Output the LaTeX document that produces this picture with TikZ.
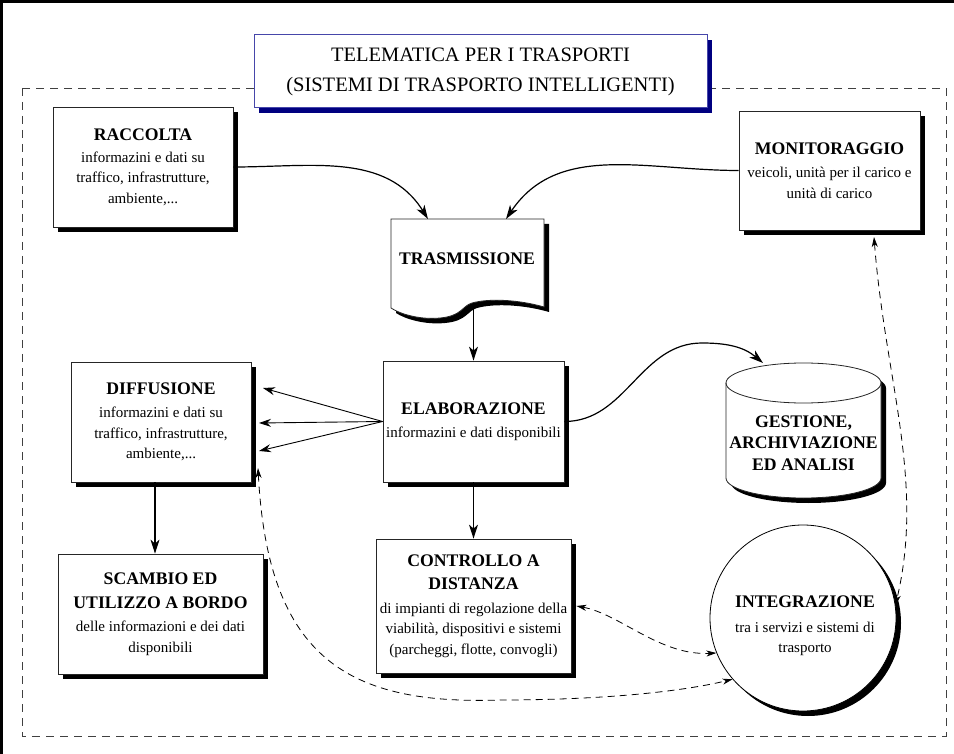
\documentclass[tikz,border=0pt]{standalone}
\usepackage{fontspec}
\setmainfont{Liberation Serif}
\usetikzlibrary{arrows.meta,shadows,calc}
\definecolor{navyc}{RGB}{0,0,128}
\definecolor{navyb}{RGB}{70,70,170}
\newcommand\hd[1]{{\fontsize{17.7}{24}\selectfont\bfseries #1}}
\tikzset{
  shd/.style={drop shadow={shadow xshift=5pt, shadow yshift=-5pt, fill=black, opacity=1}},
  box/.style={draw=black!85, line width=0.8pt, fill=white, rectangle, inner sep=0pt, align=center,
     font=\fontsize{15}{20.5}\selectfont, shd},
  big/.style={line width=1.2pt, -{Stealth[length=14pt,width=9pt,inset=4pt]}},
  thinarr/.style={line width=0.9pt, -{Stealth[length=12pt,width=8pt,inset=4pt]}},
  dsh/.style={line width=0.8pt, dash pattern=on 7pt off 5pt,
     {Stealth[length=10pt,width=6pt,inset=3pt]}-{Stealth[length=10pt,width=6pt,inset=3pt]}},
  txt/.style={align=center, inner sep=0pt, font=\fontsize{15}{20.5}\selectfont},
}
\begin{document}
\begin{tikzpicture}[x=1pt,y=-1pt]
\useasboundingbox (0,0) rectangle (954,754);
% outer frame
\draw[line width=3pt] (1.5,760) -- (1.5,1.5) -- (960,1.5);
% dashed area
\draw[dash pattern=on 8pt off 6pt, line width=0.9pt, black!75] (22,88) rectangle (946,736);
% title
\node[draw=navyb, line width=1pt, fill=white, minimum width=453pt, minimum height=73pt, inner sep=0pt,
  align=center, font=\fontsize{20.5}{30}\selectfont,
  drop shadow={shadow xshift=5pt,shadow yshift=-5pt,fill=navyc,opacity=1}] (title) at (480.5,71.5)
  {TELEMATICA PER I TRASPORTI\\(SISTEMI DI TRASPORTO INTELLIGENTI)};
% boxes
\node[box, minimum width=180pt, minimum height=120pt] (racc) at (143,167)
  {\hd{RACCOLTA}\\[1.5pt]informazini e dati su\\traffico, infrastrutture,\\ambiente,...};
\node[box, minimum width=181pt, minimum height=119pt] (mon) at (829.5,170.5)
  {\hd{MONITORAGGIO}\\[3pt]veicoli, unità per il carico e\\unità di carico};
% trasmissione (document shape)
\fill[black] (396,224) -- (549,224) -- (549,312) .. controls (525,305) and (495,303) .. (477,308)
  .. controls (467,311) and (467,321) .. (445,323) .. controls (425,325) and (405,319) .. (396,313) -- cycle;
\filldraw[fill=white, draw=black!85, line width=0.8pt] (391,219) -- (544,219) -- (544,307)
  .. controls (520,300) and (490,298) .. (472,303)
  .. controls (462,306) and (462,316) .. (440,318) .. controls (420,320) and (400,314) .. (391,308) -- cycle;
\node[txt, font=\fontsize{17.7}{24}\selectfont\bfseries] (trans) at (467,259) {TRASMISSIONE};
\coordinate (trin1) at (428,219);
\coordinate (trin2) at (506,219);
\coordinate (trout) at (473.5,303);
\node[box, minimum width=181pt, minimum height=121pt] (elab) at (473.5,421.5)
  {\hd{ELABORAZIONE}\\[3pt]informazini e dati disponibili};
\node[box, minimum width=180pt, minimum height=120pt] (diff) at (161,422)
  {\hd{DIFFUSIONE}\\[3pt]informazini e dati su\\traffico, infrastrutture,\\ambiente,...};
\node[box, minimum width=205pt, minimum height=120pt] (scamb) at (160.5,614)
  {\hd{SCAMBIO ED}\\[3pt]\hd{UTILIZZO A BORDO}\\[3pt]delle informazioni e dei dati\\disponibili};
\node[box, minimum width=195pt, minimum height=134pt] (ctrl) at (473.5,606)
  {\hd{CONTROLLO A}\\[3pt]\hd{DISTANZA}\\[3pt]di impianti di regolazione della\\viabilità, dispositivi e sistemi\\(parcheggi, flotte, convogli)};
% cylinder
\fill[black] (731,388) -- (731,483) arc[start angle=180,end angle=360,x radius=77.5pt,y radius=20pt]
  -- (886,388) arc[start angle=0,end angle=180,x radius=77.5pt,y radius=20pt] -- cycle;
\filldraw[fill=white, draw=black!85, line width=0.8pt] (726,383) -- (726,478)
  arc[start angle=180,end angle=360,x radius=77.5pt,y radius=20pt]
  -- (881,383) arc[start angle=0,end angle=180,x radius=77.5pt,y radius=20pt] -- cycle;
\draw[black!85, line width=0.8pt] (726,383) arc[start angle=180,end angle=360,x radius=77.5pt,y radius=20pt];
\node[txt, font=\fontsize{17.7}{21.5}\selectfont\bfseries] (gest) at (803.5,443)
  {GESTIONE,\\ARCHIVIAZIONE\\ED ANALISI};
\coordinate (cylin) at (763,363);
\coordinate (peak) at (702,343);
% integrazione
\node[circle, draw=black, line width=0.8pt, fill=white, minimum size=186pt, inner sep=0pt, shd] (integ) at (803,618) {};
\node[txt] (integT) at (805,626) {\hd{INTEGRAZIONE}\\[4pt]tra i servizi e sistemi di\\trasporto};
% solid connectors
\draw[big] (racc.east) to[out=0,in=122] (trin1);
\draw[big] (mon.west) to[out=180,in=56] (trin2);
\draw[big] (trout) -- (elab.north);
\coordinate (d1) at (263,388);
\coordinate (d2) at (259,423);
\coordinate (d3) at (259,451);
\draw[thinarr] (elab.west) -- (d1);
\draw[thinarr] (elab.west) -- (d2);
\draw[thinarr] (elab.west) -- (d3);
\draw[big] ([xshift=-6pt]diff.south) -- ([xshift=-6pt]diff.south |- scamb.north);
\draw[big] (elab.south) -- (ctrl.north);
\draw[big] (elab.east) to[out=0,in=180] (peak) to[out=0,in=140] (cylin);
% dashed connectors
\coordinate (monB) at (874,237);
\coordinate (diffT) at (258,468);
\draw[dsh] (monB) .. controls (885,380) and (925,480) .. (integ.8);
\draw[dsh] ([xshift=5pt]ctrl.east) .. controls (620,614) and (660,656) .. (integ.202);
\draw[dsh] (diffT) .. controls (268,660) and (350,705) .. (500,700) .. controls (600,700) and (680,692) .. (integ.221);
\end{tikzpicture}
\end{document}
